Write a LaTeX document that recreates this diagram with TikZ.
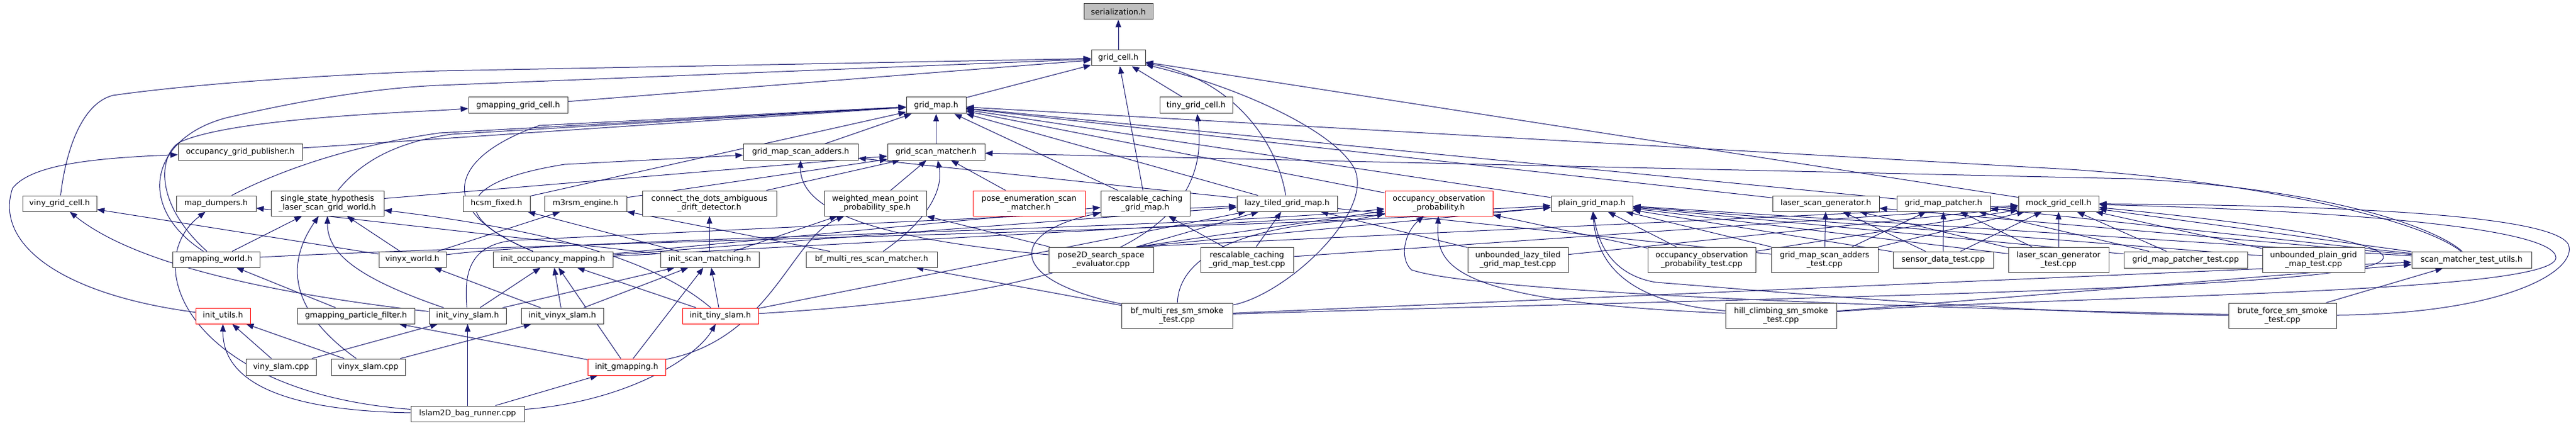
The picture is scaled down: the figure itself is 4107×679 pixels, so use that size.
\documentclass[tikz,border=0pt]{standalone}
\usepackage{fontspec}
\setmainfont{DejaVu Sans}
\usetikzlibrary{arrows.meta,backgrounds}
\definecolor{edgec}{RGB}{25,25,112}
\definecolor{boxc}{RGB}{60,60,60}
\definecolor{grayfill}{RGB}{191,191,191}
\newcommand\bx[7][]{\node[box,#1,minimum width={(#4-#3)*1pt},minimum height={(#6-#5)*1pt}] (#2) at ({(#3+#4)/2},{(#5+#6)/2}) {#7};}
\begin{document}
\begin{tikzpicture}[x=1pt,y=-1pt,
  box/.style={draw=boxc,line width=1pt,fill=white,inner sep=0pt,align=center,font=\fontsize{12.5}{14.5}\selectfont},
  redbox/.style={draw=red},
  graybox/.style={fill=grayfill},
  e/.style={draw=edgec,line width=1pt,-{Triangle[length=12pt,width=9pt]}}]
\useasboundingbox (0,0) rectangle (4107,679);
% ---------------- nodes
\bx[graybox]{ser}{1728}{1838}{6}{31}{serialization.h}
\bx{gc}{1740}{1826}{80}{105}{grid\_cell.h}
\bx{gm}{1445}{1540}{155}{181}{grid\_map.h}
\bx{ggc}{747}{905}{155}{181}{gmapping\_grid\_cell.h}
\bx{tgc}{1849}{1965}{155}{181}{tiny\_grid\_cell.h}
\bx{ogp}{284}{482}{230}{255}{occupancy\_grid\_publisher.h}
\bx{gmsa}{1185}{1368}{230}{255}{grid\_map\_scan\_adders.h}
\bx{gsm}{1415}{1570}{230}{255}{grid\_scan\_matcher.h}
\bx{vgc}{36}{154}{312}{337}{viny\_grid\_cell.h}
\bx{md}{281}{408}{312}{337}{map\_dumpers.h}
\bx{ssh}{432}{612}{304}{344}{single\_state\_hypothesis\\\_laser\_scan\_grid\_world.h}
\bx{hcsm}{738}{845}{312}{337}{hcsm\_fixed.h}
\bx{m3}{868}{999}{312}{337}{m3rsm\_engine.h}
\bx{ctd}{1024}{1238}{304}{344}{connect\_the\_dots\_ambiguous\\\_drift\_detector.h}
\bx{wm}{1314}{1477}{304}{344}{weighted\_mean\_point\\\_probability\_spe.h}
\bx[redbox]{pe}{1551}{1730}{304}{344}{pose\_enumeration\_scan\\\_matcher.h}
\bx{rcgm}{1755}{1897}{304}{344}{rescalable\_caching\\\_grid\_map.h}
\bx{ltgm}{1972}{2132}{312}{337}{lazy\_tiled\_grid\_map.h}
\bx[redbox]{oop}{2208}{2380}{304}{344}{occupancy\_observation\\\_probability.h}
\bx{pgm}{2473}{2603}{312}{337}{plain\_grid\_map.h}
\bx{lsg}{2826}{2996}{312}{337}{laser\_scan\_generator.h}
\bx{gmp}{3024}{3173}{312}{337}{grid\_map\_patcher.h}
\bx{mgc}{3218}{3346}{312}{337}{mock\_grid\_cell.h}
\bx{gw}{275}{414}{401}{426}{gmapping\_world.h}
\bx{vw}{604}{711}{401}{426}{vinyx\_world.h}
\bx{iom}{786}{977}{401}{426}{init\_occupancy\_mapping.h}
\bx{ism}{1053}{1210}{401}{426}{init\_scan\_matching.h}
\bx{bfm}{1285}{1494}{401}{426}{bf\_multi\_res\_scan\_matcher.h}
\bx{p2d}{1672}{1839}{394}{434}{pose2D\_search\_space\\\_evaluator.cpp}
\bx{rct}{1914}{2062}{394}{434}{rescalable\_caching\\\_grid\_map\_test.cpp}
\bx{ult}{2340}{2500}{394}{434}{unbounded\_lazy\_tiled\\\_grid\_map\_test.cpp}
\bx{oot}{2627}{2799}{394}{434}{occupancy\_observation\\\_probability\_test.cpp}
\bx{gat}{2824}{2994}{394}{434}{grid\_map\_scan\_adders\\\_test.cpp}
\bx{sdt}{3018}{3178}{401}{427}{sensor\_data\_test.cpp}
\bx{lgt}{3202}{3362}{394}{434}{laser\_scan\_generator\\\_test.cpp}
\bx{gpt}{3386}{3583}{401}{427}{grid\_map\_patcher\_test.cpp}
\bx{upt}{3607}{3770}{394}{434}{unbounded\_plain\_grid\\\_map\_test.cpp}
\bx{smu}{3845}{4036}{401}{427}{scan\_matcher\_test\_utils.h}
\bx[redbox]{iu}{312}{399}{491}{516}{init\_utils.h}
\bx{gpf}{474}{661}{491}{516}{gmapping\_particle\_filter.h}
\bx{ivs}{684}{807}{491}{516}{init\_viny\_slam.h}
\bx{ivx}{831}{962}{491}{516}{init\_vinyx\_slam.h}
\bx[redbox]{its}{1088}{1209}{491}{516}{init\_tiny\_slam.h}
\bx{bfs}{1788}{1965}{483}{523}{bf\_multi\_res\_sm\_smoke\\\_test.cpp}
\bx{hcs}{2751}{2928}{483}{523}{hill\_climbing\_sm\_smoke\\\_test.cpp}
\bx{bfo}{3553}{3725}{483}{523}{brute\_force\_sm\_smoke\\\_test.cpp}
\bx{vsc}{392}{504}{572}{598}{viny\_slam.cpp}
\bx{vxc}{528}{646}{572}{598}{vinyx\_slam.cpp}
\bx[redbox]{ig}{937}{1061}{572}{598}{init\_gmapping.h}
\bx{lbr}{655}{836}{647}{672}{lslam2D\_bag\_runner.cpp}
% ---------------- edges
\begin{pgfonlayer}{background}
\fill[white] (0,0) rectangle (4107,679);
% grid_cell.h and its includers
\draw[e] (gc) -- (ser);
\draw[e] (gm) -- (gc);
\draw[e] (tgc) -- (gc);
\draw[e] (ggc) -- (gc);
\draw[e] (vgc) .. controls (105,240) and (130,165) .. (180,152) .. controls (300,135) and (500,120) .. (700,113) -- (gc);
\draw[e] (gw) .. controls (215,330) and (240,220) .. (360,188) .. controls (480,160) and (600,140) .. (700,136) -- (gc);
\draw[e] (gw) .. controls (240,320) and (255,240) .. (290,225) .. controls (350,200) and (500,185) .. (700,176) -- (ggc);
\draw[e] (rcgm) -- (gc);
\draw[e] (ltgm) .. controls (2035,220) and (1960,125) .. (gc);
\draw[e] (mgc) -- (gc);
\draw[e] (bfs) .. controls (2050,470) and (2190,340) .. (2160,270) .. controls (2130,210) and (1980,140) .. (gc);
% grid_map.h
\draw[e] (ogp) -- (gm);
\draw[e] (md) .. controls (430,280) and (540,235) .. (700,212) -- (gm);
\draw[e] (ssh) .. controls (570,265) and (620,228) .. (720,214) -- (gm);
\draw[e] (hcsm) -- (gm);
\draw[e] (gmsa) -- (gm);
\draw[e] (gsm) -- (gm);
\draw[e] (rcgm) -- (gm);
\draw[e] (ltgm) -- (gm);
\draw[e] (pgm) -- (gm);
\draw[e] (lsg) -- (gm);
\draw[e] (gmp) -- (gm);
\draw[e] (oop) -- (gm);
\draw[e] (iom) .. controls (700,340) and (705,255) .. (860,200) -- (gm);
\draw[e] (smu) .. controls (3860,350) and (3600,290) .. (3300,270) -- (gm);
% grid_scan_matcher.h
\draw[e] (wm) -- (gsm);
\draw[e] (pe) -- (gsm);
\draw[e] (bfm) .. controls (1495,340) and (1502,290) .. (gsm);
\draw[e] (ssh) -- (gsm);
\draw[e] (m3) -- (gsm);
\draw[e] (ctd) -- (gsm);
\draw[e] (smu) .. controls (3880,360) and (3700,300) .. (3400,285) -- (gsm);
% grid_map_scan_adders.h
\draw[e] (iom) .. controls (715,345) and (725,290) .. (900,262) -- (gmsa);
\draw[e] (p2d) .. controls (1450,385) and (1275,350) .. (gmsa);
\draw[e] (gat) -- (gmsa);
% middle layer
\draw[e] (gw) -- (ssh);
\draw[e] (vw) -- (ssh);
\draw[e] (vw) -- (m3);
\draw[e] (vw) -- (vgc);
\draw[e] (ivs) .. controls (450,470) and (220,425) .. (vgc);
\draw[e] (ivs) .. controls (560,440) and (522,400) .. (ssh);
\draw[e] (vxc) .. controls (440,480) and (470,400) .. (ssh);
\draw[e] (its) .. controls (1050,420) and (900,370) .. (ssh);
\draw[e] (ivx) -- (vw);
\draw[e] (ivs) -- (iom);
\draw[e] (ivs) -- (ism);
\draw[e] (ivx) -- (iom);
\draw[e] (ivx) -- (ism);
\draw[e] (its) -- (iom);
\draw[e] (its) -- (ism);
\draw[e] (ism) -- (ctd);
\draw[e] (ism) -- (hcsm);
\draw[e] (ism) -- (wm);
\draw[e] (ism) -- (md);
\draw[e] (bfm) -- (m3);
\draw[e] (ig) -- (gpf);
\draw[e] (ig) -- (iom);
\draw[e] (ig) -- (ism);
\draw[e] (ig) .. controls (1230,540) and (1260,380) .. (wm);
\draw[e] (gpf) -- (gw);
\draw[e] (its) .. controls (1700,470) and (1935,390) .. (tgc);
\draw[e] (its) -- (ltgm);
\draw[e] (vsc) -- (iu);
\draw[e] (vsc) -- (ivs);
\draw[e] (vxc) -- (iu);
\draw[e] (vxc) -- (ivx);
\draw[e] (lbr) -- (ivs);
\draw[e] (lbr) -- (ig);
\draw[e] (lbr) .. controls (1000,640) and (1110,570) .. (its);
\draw[e] (lbr) .. controls (480,655) and (355,620) .. (iu);
\draw[e] (lbr) .. controls (300,625) and (220,420) .. (md);
\draw[e] (iu) .. controls (100,470) and (-10,390) .. (20,300) .. controls (50,262) and (150,252) .. (ogp);
% left group to map types
\draw[e] (iom) -- (rcgm);
\draw[e] (iom) -- (ltgm);
\draw[e] (iom) -- (pgm);
\draw[e] (gw) .. controls (900,385) and (2100,365) .. (pgm);
\draw[e] (vw) .. controls (900,380) and (1900,365) .. (oop);
\draw[e] (ivs) .. controls (740,440) and (745,390) .. (820,383) -- (ltgm);
% right group
\draw[e] (p2d) -- (wm);
\draw[e] (p2d.20) -- (ltgm);
\draw[e] (p2d.20) -- (pgm);
\draw[e] (p2d.20) -- (oop);
\draw[e] (p2d.20) -- (mgc);
\draw[e] (rct) -- (rcgm);
\draw[e] (rct) -- (ltgm);
\draw[e] (rct) -- (mgc);
\draw[e] (ult) -- (ltgm);
\draw[e] (ult) -- (mgc);
\draw[e] (oot) -- (oop);
\draw[e] (oot) -- (pgm);
\draw[e] (oot) -- (mgc);
\draw[e] (gat) -- (lsg);
\draw[e] (gat) -- (gmp);
\draw[e] (gat) -- (mgc);
\draw[e] (gat) -- (pgm);
\draw[e] (sdt) -- (gmp);
\draw[e] (sdt) -- (lsg);
\draw[e] (sdt) -- (mgc);
\draw[e] (sdt) -- (pgm);
\draw[e] (lgt) -- (mgc);
\draw[e] (lgt) -- (lsg);
\draw[e] (lgt) -- (gmp);
\draw[e] (lgt) -- (pgm);
\draw[e] (gpt) -- (gmp);
\draw[e] (gpt) -- (mgc);
\draw[e] (gpt) -- (pgm);
\draw[e] (upt) -- (pgm);
\draw[e] (upt) -- (mgc);
\draw[e] (smu) -- (mgc);
\draw[e] (smu) -- (pgm);
\draw[e] (smu) -- (lsg);
\draw[e] (smu) -- (gmp);
\draw[e] (hcs) -- (smu);
\draw[e] (bfs) -- (smu);
\draw[e] (bfo) -- (smu);
\draw[e] (bfs) -- (bfm);
\draw[e] (bfs) .. controls (1600,445) and (1610,370) .. (rcgm);
\draw[e] (bfs) .. controls (1880,400) and (2000,360) .. (2150,352) -- (oop);
\draw[e] (bfs) .. controls (3000,470) and (3800,460) .. (3800,410) .. controls (3800,385) and (3600,355) .. (mgc);
\draw[e] (hcs) .. controls (3300,470) and (4080,470) .. (4075,410) .. controls (4070,360) and (3700,335) .. (mgc);
\draw[e] (bfo) .. controls (4000,500) and (4110,430) .. (4095,390) .. controls (4070,340) and (3700,327) .. (mgc);
\draw[e] (hcs) .. controls (2570,480) and (2545,400) .. (pgm);
\draw[e] (bfo) .. controls (3200,500) and (2800,462) .. (2640,450) .. controls (2580,440) and (2550,400) .. (pgm);
\draw[e] (hcs) .. controls (2300,480) and (2290,420) .. (oop);
\draw[e] (bfo) .. controls (3000,490) and (2350,465) .. (2250,430) .. controls (2230,410) and (2240,370) .. (oop);
\end{pgfonlayer}
\end{tikzpicture}
\end{document}
